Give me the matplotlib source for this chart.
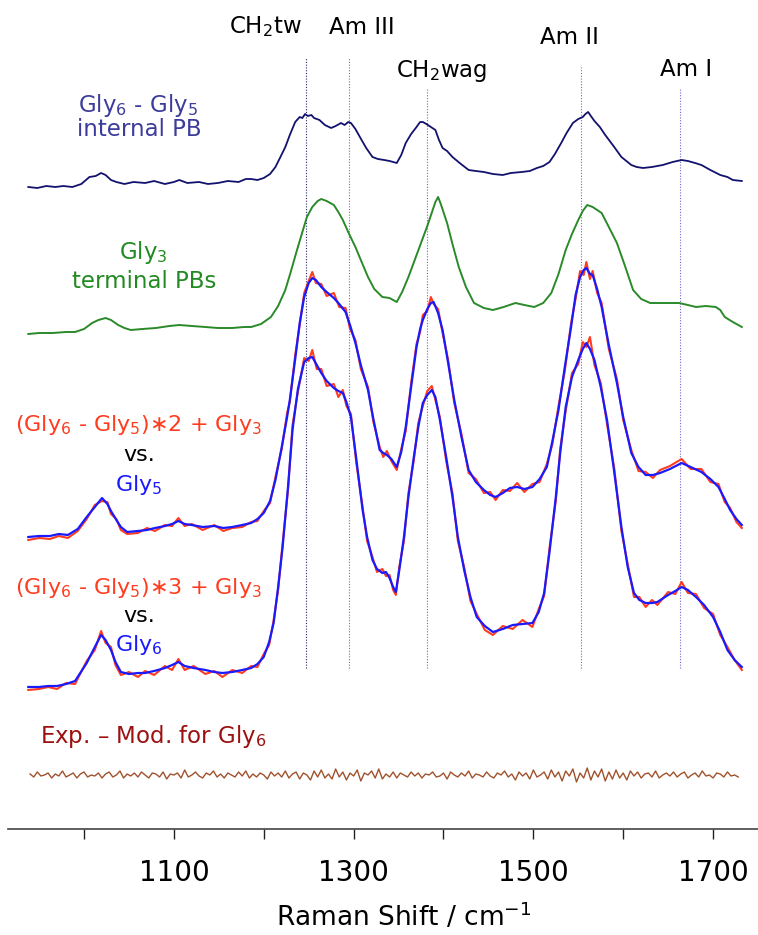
import matplotlib
matplotlib.use("Agg")
import matplotlib.pyplot as plt
import numpy as np

plt.rcParams['font.family'] = ['DejaVu Sans']
plt.rcParams['mathtext.fontset'] = 'dejavusans'

# spectra: (Raman shift cm-1, intensity above own baseline)
gly6_minus_gly5 = [
    (938, 0), (948, -1), (958, 1), (968, 0), (977, 1), (987, 0), (997, 3), (1006, 10), (1013, 11),
    (1019, 14), (1024, 12), (1030, 7), (1036, 5), (1045, 3), (1055, 5), (1068, 4), (1078, 6),
    (1090, 3), (1100, 5), (1106, 7), (1115, 4), (1128, 5), (1138, 3), (1149, 4), (1160, 6),
    (1172, 5), (1180, 8), (1186, 8), (1193, 7), (1200, 9), (1207, 13), (1213, 20), (1218, 29),
    (1224, 40), (1229, 52), (1235, 65), (1240, 70), (1243, 69), (1246, 73), (1249, 71), (1253, 72),
    (1256, 69), (1262, 67), (1268, 62), (1275, 59), (1280, 61), (1286, 64), (1290, 62), (1294, 65),
    (1297, 64), (1302, 58), (1307, 50), (1314, 39), (1321, 30), (1327, 28), (1334, 27), (1340, 26),
    (1348, 24), (1353, 32), (1358, 44), (1364, 53), (1370, 60), (1374, 65), (1377, 65), (1381, 63),
    (1386, 60), (1391, 57), (1395, 47), (1399, 39), (1404, 36), (1410, 30), (1418, 24), (1428, 17),
    (1436, 16), (1445, 15), (1455, 13), (1466, 12), (1475, 14), (1487, 15), (1496, 16), (1504, 19),
    (1511, 21), (1518, 25), (1524, 33), (1531, 44), (1537, 54), (1544, 64), (1550, 68), (1555, 70),
    (1558, 73), (1561, 75), (1564, 71), (1568, 66), (1574, 60), (1580, 52), (1590, 40), (1598, 30),
    (1609, 22), (1615, 20), (1622, 19), (1632, 20), (1644, 22), (1655, 25), (1665, 27), (1672, 26),
    (1680, 24), (1687, 22), (1697, 17), (1708, 12), (1716, 10), (1722, 7), (1732, 6),
]

gly3 = [
    (938, 0), (950, 1), (965, 1), (980, 2), (990, 2), (1000, 5), (1009, 11), (1016, 14), (1024, 16),
    (1030, 14), (1038, 9), (1045, 6), (1052, 4), (1065, 5), (1080, 6), (1095, 8), (1106, 9),
    (1120, 8), (1135, 7), (1149, 6), (1165, 6), (1178, 7), (1186, 7), (1197, 10), (1208, 17),
    (1216, 28), (1224, 44), (1230, 62), (1237, 84), (1243, 102), (1248, 117), (1254, 127),
    (1260, 133), (1264, 135), (1270, 133), (1278, 129), (1283, 122), (1288, 114), (1295, 100),
    (1302, 87), (1308, 74), (1316, 57), (1323, 45), (1332, 37), (1340, 36), (1348, 32), (1354, 42),
    (1361, 57), (1368, 74), (1375, 91), (1382, 108), (1388, 124), (1391, 132), (1394, 137),
    (1397, 130), (1404, 111), (1410, 90), (1417, 67), (1425, 47), (1434, 31), (1445, 26),
    (1455, 24), (1467, 27), (1480, 31), (1490, 29), (1501, 27), (1511, 31), (1520, 41), (1528, 60),
    (1536, 84), (1543, 100), (1550, 114), (1555, 123), (1560, 129), (1566, 127), (1576, 121),
    (1584, 107), (1593, 91), (1602, 68), (1611, 44), (1620, 35), (1630, 31), (1645, 31), (1662, 31),
    (1672, 29), (1681, 27), (1692, 28), (1703, 27), (1708, 24), (1713, 17), (1722, 12), (1732, 7),
]

model_x2 = [
    (938, -3), (950, -1), (962, -2), (972, 1), (982, -1), (993, 6), (1003, 18), (1012, 32),
    (1020, 36), (1026, 35), (1030, 23), (1036, 18), (1041, 7), (1048, 3), (1060, 4), (1070, 9),
    (1079, 6), (1090, 12), (1098, 11), (1105, 19), (1112, 11), (1120, 13), (1132, 7), (1145, 12),
    (1155, 6), (1165, 9), (1176, 10), (1186, 15), (1193, 16), (1200, 26), (1207, 34), (1213, 60),
    (1220, 88), (1226, 124), (1229, 135), (1235, 182), (1240, 212), (1245, 244), (1250, 256),
    (1254, 265), (1258, 254), (1264, 253), (1270, 241), (1278, 244), (1284, 230), (1291, 229),
    (1296, 208), (1302, 197), (1308, 168), (1316, 150), (1322, 115), (1329, 90), (1333, 80),
    (1337, 86), (1342, 76), (1348, 67), (1353, 88), (1358, 106), (1364, 154), (1370, 193),
    (1374, 205), (1377, 222), (1382, 226), (1386, 240), (1389, 233), (1394, 228), (1399, 204),
    (1405, 178), (1412, 134), (1420, 103), (1428, 64), (1436, 58), (1445, 44), (1452, 45),
    (1458, 37), (1466, 47), (1474, 46), (1482, 54), (1490, 45), (1499, 53), (1507, 55), (1515, 73),
    (1521, 92), (1528, 131), (1535, 166), (1542, 214), (1547, 238), (1552, 266), (1556, 262),
    (1559, 275), (1563, 258), (1566, 266), (1571, 244), (1576, 234), (1584, 188), (1593, 158),
    (1600, 117), (1609, 87), (1617, 66), (1625, 65), (1633, 59), (1641, 67), (1652, 71), (1665, 78),
    (1675, 68), (1687, 68), (1697, 55), (1706, 53), (1713, 35), (1719, 29), (1726, 15), (1732, 9),
]

gly5 = [
    (938, 0), (950, 1), (962, 1), (972, 3), (982, 2), (993, 8), (1003, 20), (1012, 30), (1020, 39),
    (1026, 33), (1030, 26), (1036, 17), (1041, 10), (1048, 5), (1060, 6), (1070, 7), (1079, 9),
    (1090, 11), (1098, 13), (1105, 16), (1112, 13), (1120, 12), (1132, 10), (1145, 11), (1155, 9),
    (1165, 10), (1176, 12), (1186, 14), (1193, 18), (1200, 24), (1207, 36), (1213, 57), (1220, 90),
    (1226, 120), (1229, 137), (1235, 178), (1240, 214), (1245, 240), (1250, 254), (1254, 259),
    (1258, 257), (1264, 250), (1270, 245), (1278, 239), (1284, 233), (1291, 225), (1296, 212),
    (1302, 194), (1308, 172), (1316, 147), (1322, 118), (1329, 87), (1333, 84), (1337, 82),
    (1342, 78), (1348, 70), (1353, 85), (1358, 110), (1364, 150), (1370, 190), (1374, 208),
    (1377, 217), (1382, 228), (1386, 234), (1389, 235), (1394, 224), (1399, 207), (1405, 175),
    (1412, 137), (1420, 100), (1428, 67), (1436, 55), (1445, 47), (1452, 42), (1458, 40), (1466, 44),
    (1474, 49), (1482, 50), (1490, 48), (1499, 50), (1507, 58), (1515, 70), (1521, 95), (1528, 127),
    (1535, 170), (1542, 210), (1547, 242), (1552, 260), (1556, 267), (1559, 269), (1563, 263),
    (1566, 262), (1571, 248), (1576, 230), (1584, 192), (1593, 154), (1600, 120), (1609, 84),
    (1617, 70), (1625, 62), (1633, 62), (1641, 64), (1652, 68), (1665, 74), (1675, 70), (1687, 65),
    (1697, 58), (1706, 50), (1713, 38), (1719, 27), (1726, 18), (1732, 12),
]

model_x3 = [
    (938, -3), (950, -2), (960, 0), (970, -2), (980, 4), (990, 3), (1003, 26), (1012, 37), (1019, 56),
    (1024, 44), (1030, 40), (1035, 22), (1041, 12), (1050, 15), (1060, 10), (1068, 16), (1078, 12),
    (1090, 21), (1098, 17), (1105, 28), (1112, 17), (1122, 21), (1135, 13), (1145, 16), (1154, 10),
    (1165, 17), (1176, 14), (1186, 21), (1193, 20), (1200, 33), (1206, 42), (1211, 67), (1216, 97),
    (1221, 144), (1227, 197), (1232, 262), (1238, 295), (1245, 329), (1250, 326), (1254, 337),
    (1259, 318), (1264, 318), (1270, 301), (1278, 303), (1283, 290), (1288, 297), (1292, 281),
    (1297, 273), (1303, 224), (1310, 180), (1315, 146), (1321, 130), (1326, 115), (1332, 118),
    (1336, 111), (1340, 112), (1344, 97), (1347, 92), (1351, 121), (1356, 146), (1361, 194),
    (1367, 227), (1372, 264), (1377, 281), (1382, 296), (1387, 301), (1391, 287), (1396, 270),
    (1403, 226), (1410, 194), (1416, 146), (1423, 120), (1430, 86), (1437, 73), (1446, 57),
    (1455, 52), (1466, 61), (1477, 58), (1488, 67), (1499, 60), (1506, 78), (1512, 91), (1518, 139),
    (1525, 186), (1530, 239), (1536, 276), (1543, 314), (1550, 323), (1555, 345), (1559, 340),
    (1563, 350), (1568, 322), (1575, 304), (1582, 263), (1590, 219), (1598, 156), (1605, 123),
    (1612, 90), (1618, 90), (1625, 80), (1632, 87), (1638, 82), (1650, 95), (1658, 93), (1665, 105),
    (1672, 94), (1681, 93), (1690, 79), (1700, 73), (1708, 52), (1716, 40), (1724, 27), (1732, 17),
]

gly6 = [
    (938, 0), (950, 0), (960, 1), (970, 1), (980, 3), (990, 6), (1003, 24), (1012, 40), (1019, 52),
    (1024, 47), (1030, 37), (1035, 25), (1041, 15), (1050, 13), (1060, 14), (1068, 14), (1078, 16),
    (1090, 19), (1098, 22), (1105, 25), (1112, 21), (1122, 19), (1135, 17), (1145, 15), (1154, 14),
    (1165, 15), (1176, 17), (1186, 19), (1193, 23), (1200, 30), (1206, 45), (1211, 64), (1216, 100),
    (1221, 140), (1227, 200), (1232, 257), (1238, 298), (1245, 325), (1250, 329), (1254, 330),
    (1259, 322), (1264, 314), (1270, 306), (1278, 299), (1283, 296), (1288, 294), (1292, 285),
    (1297, 270), (1303, 228), (1310, 177), (1315, 150), (1321, 127), (1326, 118), (1332, 114),
    (1336, 115), (1340, 109), (1344, 100), (1347, 95), (1351, 118), (1356, 150), (1361, 190),
    (1367, 230), (1372, 260), (1377, 284), (1382, 292), (1387, 297), (1391, 290), (1396, 267),
    (1403, 230), (1410, 190), (1416, 150), (1423, 117), (1430, 90), (1437, 70), (1446, 61),
    (1455, 55), (1466, 58), (1477, 62), (1488, 63), (1499, 64), (1506, 75), (1512, 94), (1518, 135),
    (1525, 190), (1530, 235), (1536, 280), (1543, 310), (1550, 327), (1555, 338), (1559, 344),
    (1563, 338), (1568, 327), (1575, 300), (1582, 267), (1590, 215), (1598, 160), (1605, 120),
    (1612, 94), (1618, 87), (1625, 84), (1632, 84), (1638, 85), (1650, 92), (1658, 96), (1665, 100),
    (1672, 97), (1681, 90), (1690, 82), (1700, 70), (1708, 55), (1716, 37), (1724, 27), (1732, 20),
]

# residual Exp. - Mod. for Gly6, sampled every 4 cm-1 from 940
resid_shift = np.arange(940, 1732, 4)
resid = [
    1, -2, 3, -1, 0, 2, -3, 1, -1, 4, -2, 0, 2, -3, 1, 3, -2, 0,
    -1, 2, -3, 1, 3, -2, 0, 4, -3, 1, -1, 2, -2, 3, 0, -3, 2, 1,
    -2, 3, -4, 1, 0, 2, -3, 5, -2, 0, 3, -1, -3, 2, 0, 4, -2, 1,
    -3, 2, 0, -2, 3, -1, 4, -3, 1, -2, 2, 0, -4, 3, -1, 2, -2, 4,
    -3, 1, 3, -4, 2, 0, -5, 4, -2, 5, -3, 1, -4, 6, -2, 3, -5, 2,
    -1, 5, -6, 2, 0, 4, -3, 6, -4, 1, -2, 3, -3, 2, 0, -2, 3, -1,
    2, -3, 1, 0, 3, -2, -1, 2, -4, 3, 0, -2, 2, -1, 4, -3, 1, 0,
    -2, 3, -1, -3, 2, 0, 4, -2, 1, -5, 3, -1, 2, -4, 5, -2, 0, 3,
    -4, 5, -2, 3, -6, 4, -1, 6, -7, 2, -3, 7, -5, 4, -2, 6, -6, 3,
    -4, 5, -3, 2, -5, 4, -1, 3, -3, 1, 2, -2, 4, -3, 0, 2, -1, 3,
    -2, 1, 3, -3, 0, 2, -2, 4, -1, 0, -3, 2, 1, -2, 3, -1, 0, -2,
]

# band assignments: (label, position, top of marker line)
bands = [('CH$_2$tw', 1247, 772), ('Am III', 1295, 772), ('CH$_2$wag', 1382, 740),
         ('Am II', 1553, 762), ('Am I', 1663, 740)]
band_labels_at = [(1202, 802), (1309, 802), (1398, 758), (1540, 792), (1670, 760)]

fig = plt.figure(figsize=(7.58, 9.35), dpi=100)
ax = fig.add_axes([8 / 758, 1 - 829 / 935, 750 / 758, 829 / 935])


def trace(pairs, offset, **kw):
    x, y = zip(*pairs)
    ax.plot(x, np.array(y) + offset, **kw)


# marker lines
for (name, pos, top), (tx, ty) in zip(bands, band_labels_at):
    col = '#2a2a66' if name.startswith('CH$_2$tw') else '#6a6ad0'
    ax.plot([pos, pos], [161, top], ls=(0, (1, 1.5)), lw=0.8, color=col, zorder=1)
    ax.text(tx, ty, name, ha='center', va='center', fontsize=16.5, color='black')

trace(gly6_minus_gly5, 642, color='#12126e', lw=1.3)
trace(gly3, 495, color='#2a8a2a', lw=1.4)
trace(model_x2, 292, color='#ff3c1e', lw=1.5)
trace(gly5, 292, color='#1a1aff', lw=1.6)
trace(model_x3, 142, color='#ff3c1e', lw=1.5)
trace(gly6, 142, color='#1a1aff', lw=1.6)
ax.plot(resid_shift, np.array(resid) + 54, color='#a0522d', lw=1.0)

# series labels
ax.text(1060, 724, r'Gly$_6$ - Gly$_5$', ha='center', va='center', fontsize=16.5, color='#3c3c9c')
ax.text(1061, 700, 'internal PB', ha='center', va='center', fontsize=16.5, color='#3c3c9c')
ax.text(1066, 577, r'Gly$_3$', ha='center', va='center', fontsize=16.5, color='#228a22')
ax.text(1067, 548, 'terminal PBs', ha='center', va='center', fontsize=16.5, color='#228a22')
ax.text(1061, 404, r'(Gly$_6$ - Gly$_5$)$\ast$2 + Gly$_3$', ha='center', va='center',
        fontsize=16, color='#ff3c1e')
ax.text(1061, 374, 'vs.', ha='center', va='center', fontsize=16, color='black')
ax.text(1061, 344, r'Gly$_5$', ha='center', va='center', fontsize=16, color='#1a1aff')
ax.text(1061, 241, r'(Gly$_6$ - Gly$_5$)$\ast$3 + Gly$_3$', ha='center', va='center',
        fontsize=16, color='#ff3c1e')
ax.text(1061, 213, 'vs.', ha='center', va='center', fontsize=16, color='black')
ax.text(1061, 184, r'Gly$_6$', ha='center', va='center', fontsize=16, color='#1a1aff')
ax.text(1077, 93, r'Exp. – Mod. for Gly$_6$', ha='center', va='center', fontsize=16.5,
        color='#9b1010')

ax.set_xlim(915.4, 1750)
ax.set_ylim(0, 829)
for s in ['top', 'left', 'right']:
    ax.spines[s].set_visible(False)
ax.spines['bottom'].set_color('#444444')
ax.spines['bottom'].set_linewidth(1.2)
ax.set_yticks([])
ax.set_xticks([1000, 1100, 1200, 1300, 1400, 1500, 1600, 1700])
ax.set_xticklabels(['', '1100', '', '1300', '', '1500', '', '1700'])
ax.tick_params(axis='x', direction='out', length=7.5, width=1, color='#222222',
               labelsize=20, pad=14)
ax.set_xlabel('Raman Shift / cm$^{-1}$', fontsize=19)
ax.xaxis.set_label_coords(0.528, -0.088)

fig.savefig('out.png', dpi=100)
